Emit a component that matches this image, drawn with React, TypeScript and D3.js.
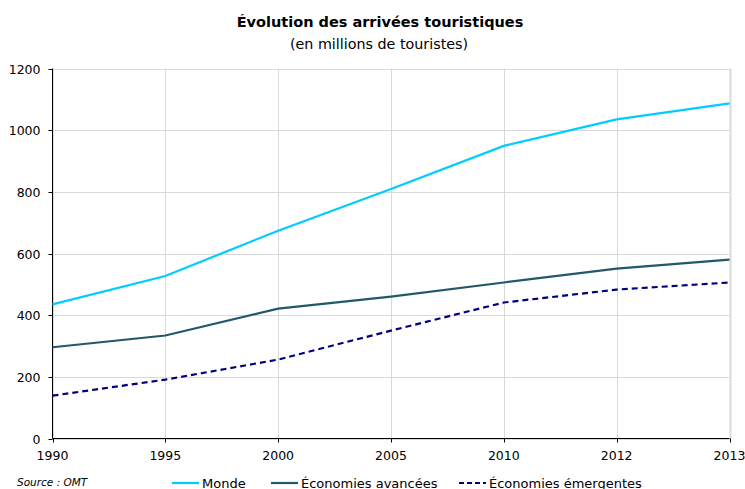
import React from "react";
import * as d3 from "d3";

const years = ["1990", "1995", "2000", "2005", "2010", "2012", "2013"];
const monde = [435, 527, 674, 809, 949, 1035, 1087];
const avancees = [296, 334, 421, 460, 506, 551, 580];
const emergentes = [139, 191, 256, 350, 441, 483, 506];
const yTicks = [0, 200, 400, 600, 800, 1000, 1200];

const series = [
  { name: "Monde", values: monde, color: "#00ccff", dash: "" },
  { name: "Économies avancées", values: avancees, color: "#215968", dash: "" },
  { name: "Économies émergentes", values: emergentes, color: "#000080", dash: "6,4" },
];

const W = 745, H = 489;
const left = 52.5, right = 729.5, top = 68.5, bottom = 438.5;
const font = "Tahoma, 'DejaVu Sans', sans-serif";

export default function App() {
  const x = d3.scalePoint<string>().domain(years).range([left, right]);
  const y = d3.scaleLinear().domain([0, 1200]).range([bottom, top]);
  const line = d3.line<number>().x((_, i) => x(years[i])!).y((d) => y(d));
  const legendX = [172, 271, 459];
  return (
    <svg width={W} height={H} style={{ position: "absolute", left: 0, top: 0, background: "#fff" }}>
      <text x={380} y={27} textAnchor="middle" fontFamily={font} fontWeight="bold" fontSize={14.5}>
        Évolution des arrivées touristiques
      </text>
      <text x={379} y={49} textAnchor="middle" fontFamily={font} fontSize={14.3}>
        (en millions de touristes)
      </text>
      {yTicks.map((t) => (
        <g key={t}>
          <line x1={left} x2={right} y1={Math.round(y(t)) + 0.5} y2={Math.round(y(t)) + 0.5} stroke="#d9d9d9" />
          <line x1={left - 4} x2={left} y1={Math.round(y(t)) + 0.5} y2={Math.round(y(t)) + 0.5} stroke="#000" />
          <text x={left - 12} y={y(t) + 5} textAnchor="end" fontFamily={font} fontSize={12.5}>
            {t}
          </text>
        </g>
      ))}
      {years.map((yr) => (
        <g key={yr}>
          <line x1={Math.round(x(yr)!) + 0.5} x2={Math.round(x(yr)!) + 0.5} y1={top} y2={bottom} stroke="#d9d9d9" strokeWidth={yr === "2013" ? 2 : 1} />
          <line x1={Math.round(x(yr)!) + 0.5} x2={Math.round(x(yr)!) + 0.5} y1={bottom} y2={bottom + 4} stroke="#000" />
          <text x={x(yr)} y={bottom + 21} textAnchor="middle" fontFamily={font} fontSize={12.5}>
            {yr}
          </text>
        </g>
      ))}
      <line x1={left} x2={left} y1={top} y2={bottom} stroke="#000" />
      <line x1={left} x2={right} y1={bottom} y2={bottom} stroke="#000" />
      {series.map((s) => (
        <path key={s.name} d={line(s.values)!} fill="none" stroke={s.color} strokeWidth={2.2} strokeDasharray={s.dash || undefined} />
      ))}
      <text x={17} y={486} fontFamily={font} fontStyle="italic" fontSize={10.5}>
        Source : OMT
      </text>
      {series.map((s, i) => (
        <g key={s.name}>
          <line x1={legendX[i]} x2={legendX[i] + 27} y1={483} y2={483} stroke={s.color} strokeWidth={2.2} strokeDasharray={s.dash ? "5,3" : undefined} />
          <text x={legendX[i] + 30} y={487.5} fontFamily={font} fontSize={13}>
            {s.name}
          </text>
        </g>
      ))}
    </svg>
  );
}
